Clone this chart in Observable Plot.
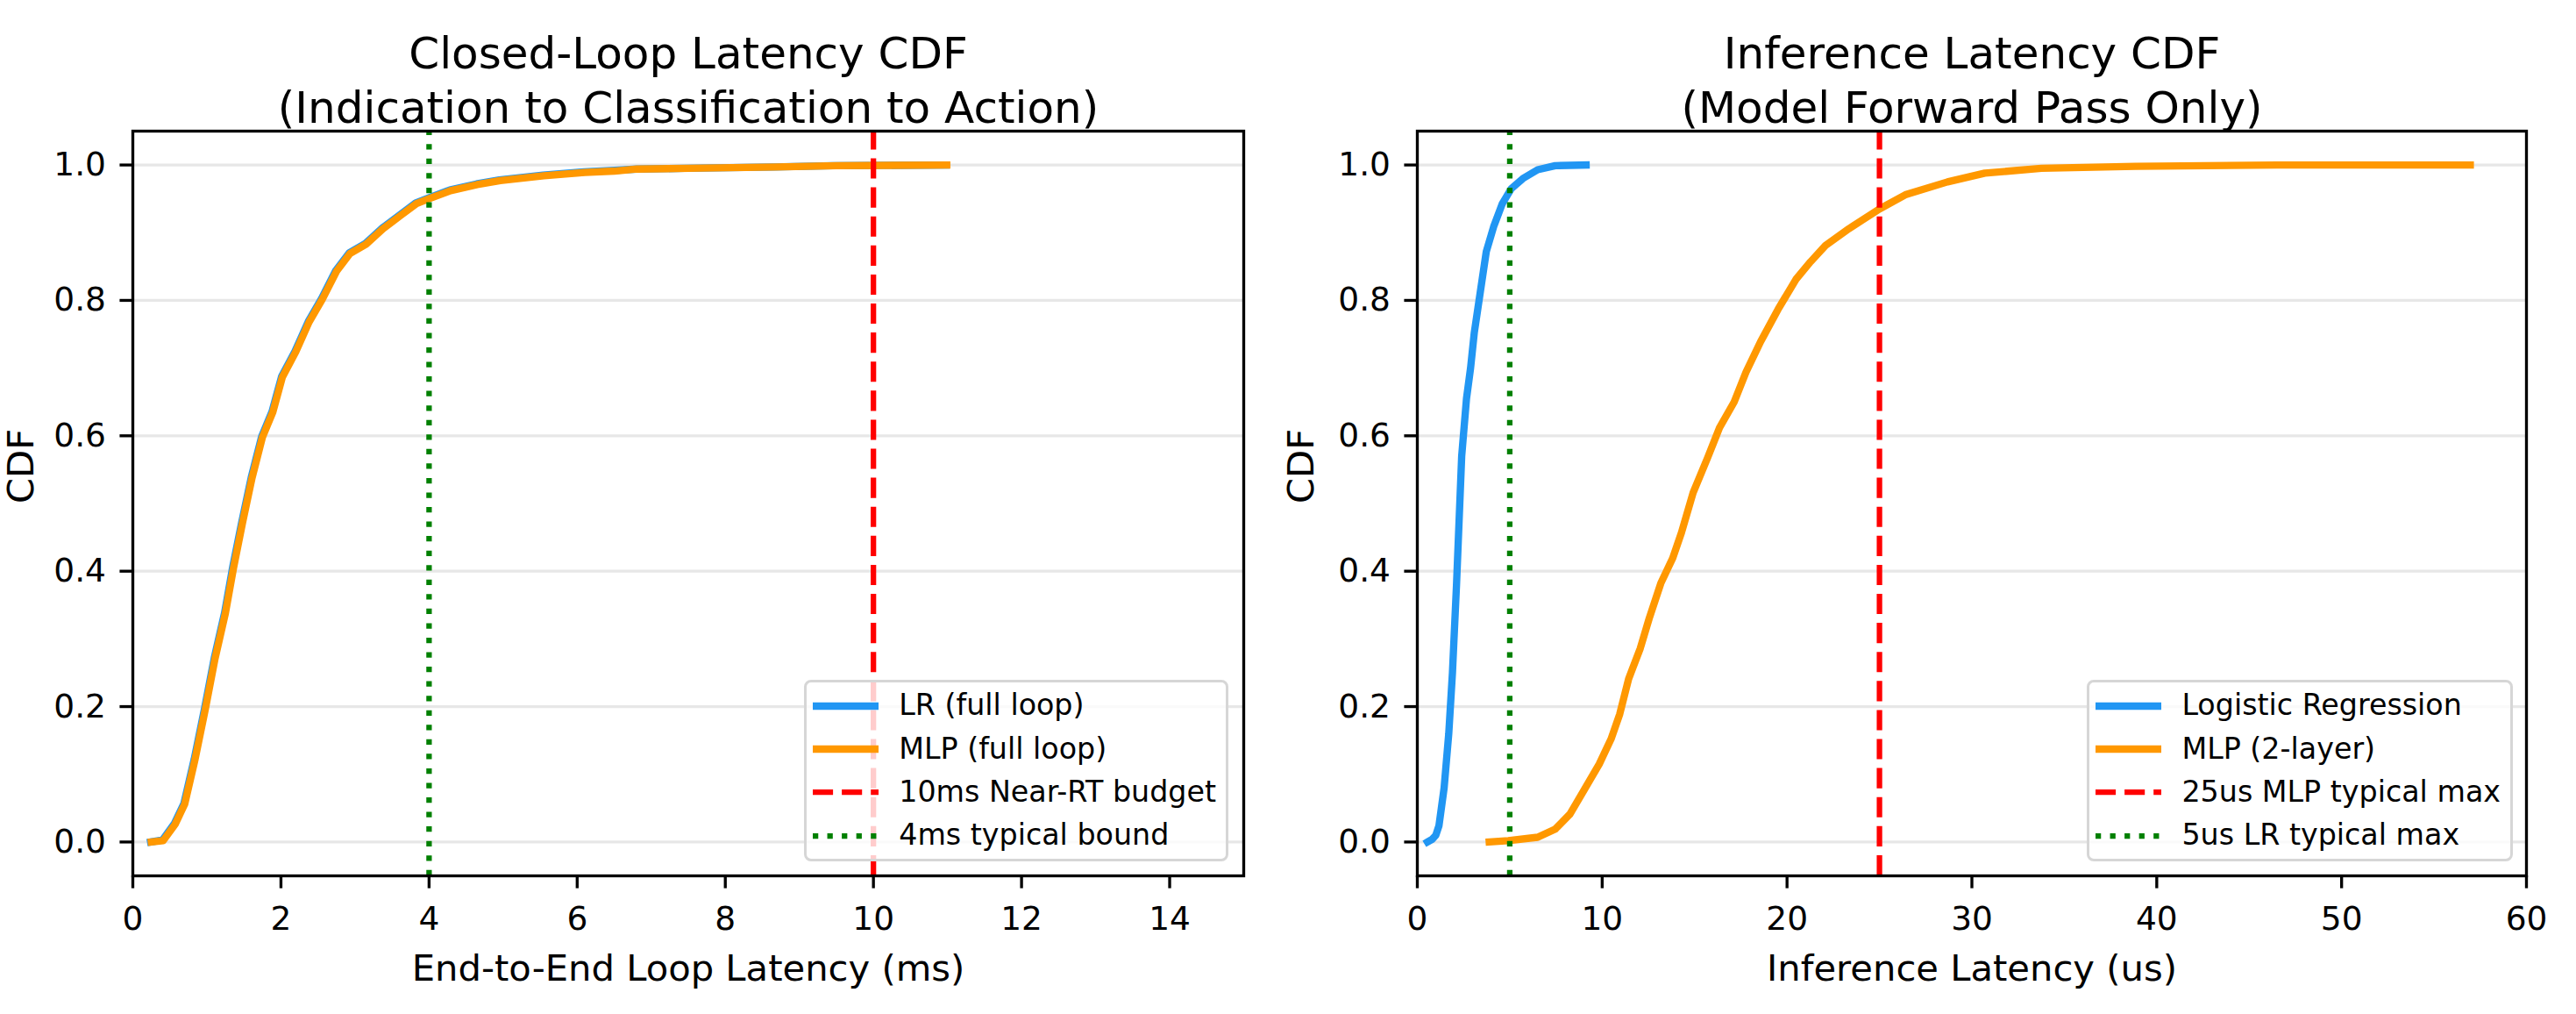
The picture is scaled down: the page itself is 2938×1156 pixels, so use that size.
<!DOCTYPE html>
<html>
<head>
<meta charset="utf-8">
<script src="https://cdn.jsdelivr.net/npm/d3@7"></script>
<script src="https://cdn.jsdelivr.net/npm/@observablehq/plot@0.6"></script>
<style>
  html, body { margin: 0; padding: 0; background: #ffffff; }
  #root { position: relative; width: 2938px; height: 1156px; background: #ffffff; overflow: hidden; font-family: "DejaVu Sans", sans-serif; }
  .panel { position: absolute; top: 0; }
  .legend { position: absolute; box-sizing: border-box; background: rgba(255,255,255,0.8); border: 3px solid #d6d6d6; border-radius: 8px; padding: 10px 11px 10px 7px; font-family: "DejaVu Sans", sans-serif; font-size: 33.3px; color: #000; }
  .legend .row { display: flex; align-items: center; height: 32.7px; line-height: 32.7px; white-space: nowrap; }
  .legend .row + .row { margin-top: 16.7px; }
  .legend svg { display: block; margin-right: 23px; overflow: visible; }
</style>
</head>
<body>
<div id="root"></div>
<script>
// ---------------- data ----------------
// Left panel: closed-loop latency (ms) empirical CDF
const loopLR_ms  = [0.24, 0.40, 0.56, 0.69, 0.83, 0.97, 1.10, 1.24, 1.35, 1.47, 1.60, 1.74, 1.88, 2.01, 2.19, 2.37, 2.55, 2.74, 2.92, 3.14, 3.37, 3.60, 3.82, 4.01, 4.28, 4.64, 4.95, 5.54, 6.09, 6.50, 6.80, 7.45, 8.65, 9.45, 10.98];
const loopLR_cdf = [0.000, 0.003, 0.027, 0.057, 0.123, 0.198, 0.272, 0.339, 0.407, 0.472, 0.539, 0.599, 0.636, 0.688, 0.725, 0.769, 0.803, 0.844, 0.870, 0.884, 0.907, 0.926, 0.944, 0.952, 0.963, 0.972, 0.978, 0.985, 0.990, 0.992, 0.994, 0.995, 0.997, 0.999, 1.000];
const loopMLP_ms  = [0.25, 0.41, 0.57, 0.70, 0.84, 0.98, 1.11, 1.25, 1.36, 1.48, 1.61, 1.75, 1.89, 2.02, 2.20, 2.38, 2.56, 2.75, 2.93, 3.15, 3.38, 3.61, 3.83, 4.02, 4.29, 4.65, 4.96, 5.55, 6.10, 6.50, 6.81, 7.50, 8.68, 9.50, 10.99];
const loopMLP_cdf = [0.000, 0.002, 0.026, 0.056, 0.122, 0.197, 0.271, 0.338, 0.405, 0.471, 0.538, 0.598, 0.635, 0.687, 0.724, 0.768, 0.802, 0.843, 0.869, 0.883, 0.906, 0.925, 0.943, 0.951, 0.962, 0.971, 0.977, 0.984, 0.989, 0.991, 0.994, 0.995, 0.997, 0.999, 1.000];

// Right panel: inference latency (us) empirical CDF
const infLR_us  = [0.55, 0.80, 1.00, 1.17, 1.45, 1.70, 1.90, 2.12, 2.40, 2.66, 2.88, 3.08, 3.41, 3.73, 4.13, 4.60, 5.08, 5.71, 6.51, 7.46, 9.13];
const infLR_cdf = [0.000, 0.004, 0.010, 0.024, 0.080, 0.160, 0.250, 0.380, 0.570, 0.655, 0.700, 0.752, 0.813, 0.872, 0.909, 0.943, 0.965, 0.980, 0.993, 0.999, 1.000];
const infMLP_us  = [3.89, 4.92, 6.51, 7.46, 8.25, 9.05, 9.84, 10.48, 10.95, 11.43, 12.06, 12.54, 13.17, 13.81, 14.29, 14.92, 15.71, 16.35, 17.14, 17.78, 18.57, 19.52, 20.48, 21.27, 22.08, 23.35, 25.00, 26.40, 28.68, 30.70, 33.76, 38.85, 46.50, 56.96];
const infMLP_cdf = [0.000, 0.002, 0.007, 0.019, 0.041, 0.078, 0.115, 0.152, 0.189, 0.241, 0.286, 0.330, 0.382, 0.419, 0.457, 0.516, 0.568, 0.612, 0.650, 0.694, 0.739, 0.787, 0.831, 0.857, 0.881, 0.906, 0.935, 0.956, 0.975, 0.988, 0.995, 0.998, 1.000, 1.000];

const loopSeries = ["LR (full loop)", "MLP (full loop)"];
const infSeries  = ["Logistic Regression", "MLP (2-layer)"];

const loopThresholds = [10, 4];
const loopThresholdLabels = ["10ms Near-RT budget", "4ms typical bound"];
const infThresholds = [25, 5];
const infThresholdLabels = ["25us MLP typical max", "5us LR typical max"];

const yTicks = [0.0, 0.2, 0.4, 0.6, 0.8, 1.0];
const yDomain = [-0.05, 1.05];
const loopXTicks = [0, 2, 4, 6, 8, 10, 12, 14];
const loopXDomain = [0, 15];
const infXTicks = [0, 10, 20, 30, 40, 50, 60];
const infXDomain = [0, 60];

const titles = ["Closed-Loop Latency CDF\n(Indication to Classification to Action)", "Inference Latency CDF\n(Model Forward Pass Only)"];
const xLabels = ["End-to-End Loop Latency (ms)", "Inference Latency (us)"];
const yLabel = "CDF";

// ---------------- styles ----------------
const seriesColors = ["#2196F3", "#FF9800"];
const vlineStyles = [
  {stroke: "red", dash: "23.1,10"},
  {stroke: "green", dash: "6.25,10.3"}
];
const PT = 300 / 72; // px per point

function rows(xs, ys, name) { return d3.zip(xs, ys).map(([x, y]) => ({x, y, name})); }

function makePanel(cfg) {
  const W = 1469, H = 1156;
  const marks = [
    Plot.gridY(yTicks, {stroke: "#b0b0b0", strokeOpacity: 0.3, strokeWidth: 0.8 * PT}),
  ];
  cfg.series.forEach((s, i) => {
    marks.push(Plot.line(s, {x: "x", y: "y", stroke: seriesColors[i], strokeWidth: 2 * PT, strokeLinejoin: "round", strokeLinecap: "square"}));
  });
  cfg.thresholds.forEach((t, i) => {
    marks.push(Plot.ruleX([t], {y1: yDomain[0], y2: yDomain[1], stroke: vlineStyles[i].stroke, strokeWidth: 1.5 * PT, strokeDasharray: vlineStyles[i].dash}));
  });
  marks.push(
    Plot.frame({stroke: "black", strokeWidth: 0.8 * PT}),
    Plot.axisX(cfg.xTicks, {tickSize: 3.5 * PT, tickPadding: 20, strokeWidth: 0.8 * PT, fontSize: 37.5, label: null, tickFormat: d => String(d)}),
    Plot.axisY(yTicks, {tickSize: 3.5 * PT, tickPadding: 16, strokeWidth: 0.8 * PT, fontSize: 37.5, label: null, tickFormat: d3.format(".1f")}),
    Plot.text([cfg.title], {frameAnchor: "top", lineAnchor: "top", dy: -116, fontSize: 50, lineHeight: 1.25}),
    Plot.text([cfg.xLabel], {frameAnchor: "bottom", lineAnchor: "top", dy: 90, fontSize: 41.7}),
    Plot.text([yLabel], {frameAnchor: "left", lineAnchor: "middle", rotate: -90, dx: cfg.yLabelDx, fontSize: 41.7})
  );
  const svg = Plot.plot({
    width: W, height: H,
    marginLeft: cfg.marginLeft, marginRight: cfg.marginRight, marginTop: 149, marginBottom: 158,
    x: {domain: cfg.xDomain},
    y: {domain: yDomain},
    style: {fontFamily: "DejaVu Sans", fontSize: "37.5px", color: "black", background: "white", overflow: "visible"},
    marks
  });
  const wrap = document.createElement("div");
  wrap.className = "panel";
  wrap.style.left = cfg.left + "px";
  wrap.appendChild(svg);
  return wrap;
}

function makeLegend(labels, rightPx) {
  const div = document.createElement("div");
  div.className = "legend";
  div.style.right = rightPx + "px";
  div.style.bottom = (158 + 16) + "px";
  const swatches = [
    {stroke: seriesColors[0], width: 2 * PT, dash: null, cap: "butt"},
    {stroke: seriesColors[1], width: 2 * PT, dash: null, cap: "butt"},
    {stroke: vlineStyles[0].stroke, width: 1.5 * PT, dash: vlineStyles[0].dash, cap: "butt"},
    {stroke: vlineStyles[1].stroke, width: 1.5 * PT, dash: vlineStyles[1].dash, cap: "butt"}
  ];
  labels.forEach((lab, i) => {
    const row = document.createElement("div");
    row.className = "row";
    const sw = d3.create("svg").attr("width", 75).attr("height", 20);
    const ln = sw.append("line").attr("x1", 0).attr("x2", 75).attr("y1", 10).attr("y2", 10)
      .attr("stroke", swatches[i].stroke).attr("stroke-width", swatches[i].width).attr("stroke-linecap", swatches[i].cap);
    if (swatches[i].dash) ln.attr("stroke-dasharray", swatches[i].dash);
    row.appendChild(sw.node());
    const span = document.createElement("span");
    span.textContent = lab;
    row.appendChild(span);
    div.appendChild(row);
  });
  return div;
}

const root = document.getElementById("root");

root.appendChild(makePanel({
  left: 0, marginLeft: 151, marginRight: 51, yLabelDx: -127,
  xDomain: loopXDomain, xTicks: loopXTicks,
  series: [rows(loopLR_ms, loopLR_cdf, loopSeries[0]), rows(loopMLP_ms, loopMLP_cdf, loopSeries[1])],
  thresholds: loopThresholds,
  title: titles[0], xLabel: xLabels[0]
}));
root.appendChild(makePanel({
  left: 1469, marginLeft: 147, marginRight: 57, yLabelDx: -132,
  xDomain: infXDomain, xTicks: infXTicks,
  series: [rows(infLR_us, infLR_cdf, infSeries[0]), rows(infMLP_us, infMLP_cdf, infSeries[1])],
  thresholds: infThresholds,
  title: titles[1], xLabel: xLabels[1]
}));

root.appendChild(makeLegend([...loopSeries, ...loopThresholdLabels], 2938 - 1418 + 17));
root.appendChild(makeLegend([...infSeries, ...infThresholdLabels], 2938 - 2881 + 15));
</script>
</body>
</html>
